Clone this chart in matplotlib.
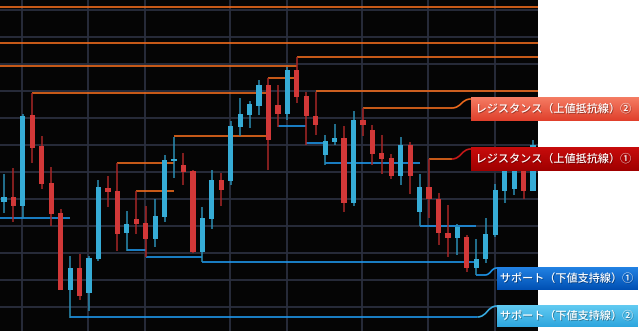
import numpy as np
import matplotlib
matplotlib.use('Agg')
import matplotlib.pyplot as plt
import matplotlib.patheffects as pe
from matplotlib.path import Path
from matplotlib.patches import PathPatch

plt.rcParams['font.family'] = ['Noto Sans CJK JP', 'DejaVu Sans']

# candle data (price units)
opens = [138, 143, 134, 225, 194, 157, 127, 50, 72, 47, 81, 152, 149, 107, 121, 117, 101, 123, 179,
         175, 169, 88, 121, 160, 159, 213, 225, 234, 255, 235, 226, 270, 244, 224, 185, 198, 202, 137,
         220, 210, 187, 182, 164, 195, 128, 153, 141, 107, 102, 103, 72, 81, 105, 149, 151, 170, 149]
closes = [143, 134, 224, 192, 156, 126, 50, 72, 44, 82, 153, 148, 106, 116, 116, 101, 124, 180, 181,
          168, 88, 122, 160, 150, 214, 226, 236, 255, 200, 226, 270, 243, 224, 215, 199, 202, 137, 220,
          215, 186, 181, 164, 195, 164, 153, 141, 107, 102, 113, 72, 81, 106, 150, 170, 170, 149, 195]
highs = [166, 172, 226, 247, 204, 173, 131, 84, 86, 84, 160, 164, 177, 129, 149, 134, 141, 185, 203,
         187, 170, 133, 170, 167, 219, 242, 239, 260, 262, 255, 273, 283, 248, 248, 205, 216, 214, 229,
         232, 215, 205, 186, 203, 198, 166, 181, 147, 135, 116, 105, 101, 122, 156, 177, 175, 175, 200]
lows = [127, 118, 122, 177, 151, 114, 50, 22, 40, 29, 79, 133, 89, 89, 106, 83, 93, 118, 162,
        155, 87, 78, 111, 134, 155, 204, 212, 225, 170, 213, 220, 237, 195, 205, 175, 195, 128, 134,
        204, 175, 166, 161, 155, 146, 114, 122, 95, 83, 85, 68, 65, 77, 103, 137, 145, 141, 149]

# resistance / support levels: (start candle, end candle, price); None = chart edge
resistance = [(None, None, 333), (None, None, 297), (None, 31, 274), (31, None, 283),
              (3, 28, 247), (28, 31, 262), (33, None, 249), (12, 18, 177),
              (14, 18, 149), (18, 28, 204), (38, 47.4, 232), (45, 47.4, 181)]
support = [(None, 7, 122), (7, 50.1, 23), (13, 15, 90), (15, 21, 83), (21, 50, 78),
           (29, 32, 214), (32, 34, 197), (34, 44, 177), (44, 50, 114), (50, 50.9, 65)]

labels = ['レジスタンス（上値抵抗線）②', 'レジスタンス（上値抵抗線）①',
          'サポート（下値支持線）①', 'サポート（下値支持線）②']
label_prices = [232, 181, 65, 23]

BLUE, RED = '#36acd6', '#d23838'
BLUE_W, RED_W = '#2a8db3', '#a82626'
ORANGE, LINE_BLUE = '#ee6a1c', '#1e94e8'

fig = plt.figure(figsize=(6.4, 3.31), dpi=100, facecolor='white')
ax = fig.add_axes([0, 0, 538 / 640, 1])
ax.set_facecolor('#050505')

XMIN, XMAX = -0.4235, 56.53
YMIN, YMAX = 9, 340

x = np.arange(len(opens))
o, c, h, l = map(np.array, (opens, closes, highs, lows))
up = c >= o
body_lo = np.minimum(o, c)
body_h = np.maximum(np.abs(c - o), 1.5)

ax.vlines(x[up], l[up], h[up], color=BLUE_W, lw=1.1, zorder=3)
ax.vlines(x[~up], l[~up], h[~up], color=RED_W, lw=1.1, zorder=3)
ax.bar(x[up], body_h[up], bottom=body_lo[up], width=0.55, color=BLUE, zorder=4)
ax.bar(x[~up], body_h[~up], bottom=body_lo[~up], width=0.55, color=RED, zorder=4)

for levels, col in ((resistance, ORANGE), (support, LINE_BLUE)):
    for s, e, p in levels:
        s = XMIN - 1 if s is None else s
        e = XMAX + 1 if e is None else e
        ax.plot([s, e], [p, p], color=col, lw=1.2, zorder=2, solid_capstyle='butt')

# label boxes with gradient + connector curves
specs = [
    # line end x, box left x, box bottom, box top, curve end y, top colour, bottom colour, line colour
    (47.4, 49.43, 219, 243, 241, '#f57d64', '#e0402c', ORANGE),
    (47.4, 49.43, 169, 193, 191, '#c80c0c', '#a00000', '#c81818'),
    (50.9, 52.2, 50, 73, 72, '#2383e4', '#0050b4', LINE_BLUE),
    (50.1, 52.2, 13, 35, 34, '#62cbf2', '#2ea6de', '#3ab0e6'),
]
for (lx, bx, b0, b1, cy, ctop, cbot, lcol), text, p in zip(specs, labels, label_prices):
    mx = (lx + bx) / 2
    path = Path([(lx, p), (mx, p), (mx, cy), (bx, cy)],
                [Path.MOVETO, Path.CURVE4, Path.CURVE4, Path.CURVE4])
    ax.add_patch(PathPatch(path, fc='none', ec=lcol, lw=1.2, zorder=2, clip_on=False))
    grad = np.linspace(0, 1, 64)[:, None, None]
    top = np.array(matplotlib.colors.to_rgb(ctop))
    bot = np.array(matplotlib.colors.to_rgb(cbot))
    img = top * (1 - grad) + bot * grad
    x1 = XMAX + (638 - 538) / 9.446
    ax.imshow(img, extent=[bx, x1, b0, b1], aspect='auto', origin='upper',
              clip_on=False, zorder=6, interpolation='bilinear')
    ax.text((bx + x1) / 2 - 0.1, (b0 + b1) / 2, text, color='white', fontsize=8,
            fontweight='medium', ha='center', va='center', zorder=7, clip_on=False,
            path_effects=[pe.withSimplePatchShadow(offset=(0.6, -0.6), shadow_rgbFace='black',
                                                   alpha=0.35)])

ax.set_xlim(XMIN, XMAX)
ax.set_ylim(YMIN, YMAX)
ax.set_xticks([1.91, 8.89, 14.93, 23.93, 29.96, 37.90, 44.89, 51.98])
ax.set_yticks([330, 303, 276, 249, 222, 195, 168, 141, 114, 87, 60, 33])
ax.grid(True, color='#2a2f3e', lw=1.3)
ax.set_axisbelow(True)
ax.tick_params(length=0, labelbottom=False, labelleft=False)
for sp in ax.spines.values():
    sp.set_visible(False)

fig.savefig('out.png', dpi=100, facecolor='white')
